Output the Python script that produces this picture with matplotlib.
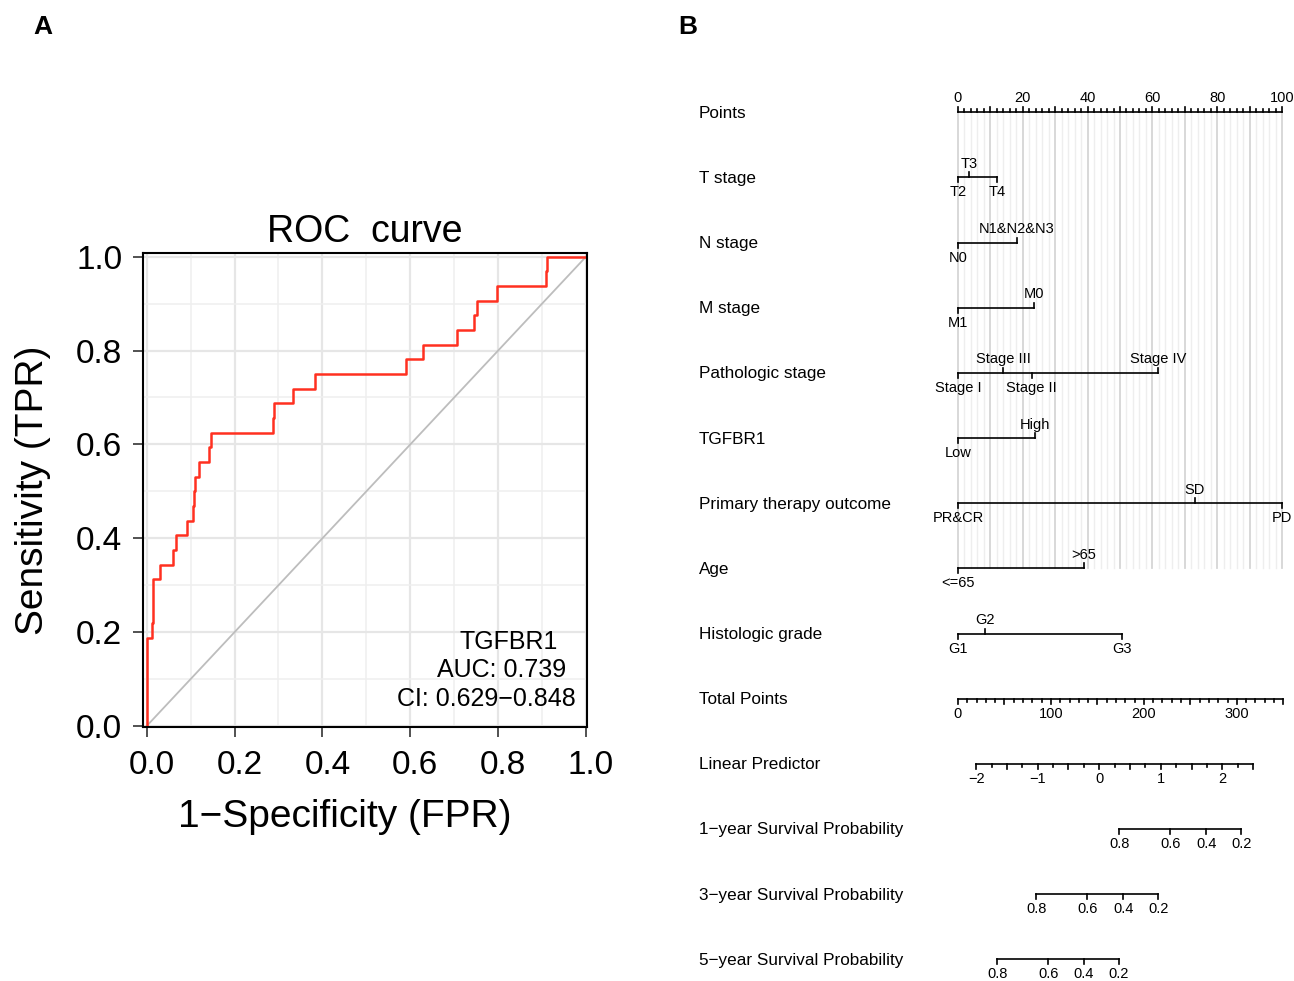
import numpy as np
import matplotlib.pyplot as plt
from matplotlib.transforms import ScaledTranslation, blended_transform_factory

plt.rcParams['font.family'] = ['Liberation Sans', 'DejaVu Sans']

# ROC curve corner points
fpr = [0.0, 0.0, 0.013, 0.015, 0.030, 0.061, 0.067, 0.091, 0.105, 0.108, 0.111, 0.118, 0.142, 0.146,
       0.287, 0.290, 0.332, 0.382, 0.590, 0.630, 0.707, 0.745, 0.752, 0.798, 0.909, 0.912, 1.0]
tpr = [0.0, 0.1875, 0.219, 0.3125, 0.344, 0.375, 0.406, 0.4375, 0.469, 0.500, 0.531, 0.5625, 0.594, 0.625,
       0.656, 0.6875, 0.719, 0.750, 0.781, 0.8125, 0.844, 0.875, 0.906, 0.9375, 0.969, 1.0, 1.0]
roc_text = ['TGFBR1', 'AUC: 0.739', 'CI: 0.629\u22120.848']

# Nomogram variables, levels and points
var_names = ['T stage', 'N stage', 'M stage', 'Pathologic stage', 'TGFBR1',
             'Primary therapy outcome', 'Age', 'Histologic grade']
var_levels = [['T2', 'T3', 'T4'],
              ['N0', 'N1&N2&N3'],
              ['M1', 'M0'],
              ['Stage I', 'Stage III', 'Stage II', 'Stage IV'],
              ['Low', 'High'],
              ['PR&CR', 'SD', 'PD'],
              ['<=65', '>65'],
              ['G1', 'G2', 'G3']]
var_points = [[0, 3.5, 12.0],
              [0, 18.2],
              [0, 23.5],
              [0, 13.9, 22.8, 61.7],
              [0, 23.8],
              [0, 73.0, 100.0],
              [0, 38.9],
              [0, 8.3, 50.7]]

total_max = 350
points_per_total = 100 / 348.6
lp_min, lp_max = -2.0, 2.5
lp_intercept, lp_slope = 152.0, 66.25   # total points = intercept + slope * lp

surv_names = ['1\u2212year Survival Probability', '3\u2212year Survival Probability',
              '5\u2212year Survival Probability']
surv_probs = [0.8, 0.6, 0.4, 0.2]
surv_total = [[173.6, 228.5, 267.2, 304.9],
              [84.2, 139.0, 177.8, 215.4],
              [42.2, 97.1, 135.4, 173.0]]

W, H = 1294, 981
fig = plt.figure(figsize=(W / 100, H / 100), dpi=100)

# ---------------- Panel A: ROC curve ----------------
ax = fig.add_axes([142.7 / W, 1 - 726.7 / H, 444 / W, 473.7 / H])
ax.set_xlim(-0.0091, 1.0016)
ax.set_ylim(-0.0015, 1.0079)
ax.set_xticks(np.arange(0, 1.01, 0.2))
ax.set_yticks(np.arange(0, 1.01, 0.2))
ax.set_xticks(np.arange(0.1, 1.0, 0.2), minor=True)
ax.set_yticks(np.arange(0.1, 1.0, 0.2), minor=True)
ax.set_xticklabels(['%.1f' % v for v in np.arange(0, 1.01, 0.2)])
ax.set_yticklabels(['%.1f' % v for v in np.arange(0, 1.01, 0.2)])
ax.grid(which='major', color='#e6e6e6', linewidth=1.6)
ax.grid(which='minor', color='#efefef', linewidth=1.1)
ax.set_axisbelow(True)
ax.tick_params(which='major', direction='out', length=7.2, width=1.1, labelsize=24, color='#222222')
ax.tick_params(axis='x', pad=9.5)
ax.tick_params(axis='y', pad=7.5)
ax.tick_params(which='minor', length=0)
for lab in ax.get_xticklabels():
    lab.set_transform(lab.get_transform() + ScaledTranslation(5 / 100, 0, fig.dpi_scale_trans))
for s in ax.spines.values():
    s.set_linewidth(1.5)

ax.plot([0, 1], [0, 1], color='#bdbdbd', linewidth=1.3)
ax.plot(fpr, tpr, drawstyle='steps-post', color='#ff3020', linewidth=1.8)

ax.text(0.825, 0.180, roc_text[0], fontsize=18, ha='center', va='center')
ax.text(0.808, 0.119, roc_text[1], fontsize=18, ha='center', va='center')
ax.text(0.774, 0.058, roc_text[2], fontsize=18, ha='center', va='center')

ax.set_title('ROC  curve', fontsize=27, y=1.024, pad=0)
ax.set_xlabel('1\u2212Specificity (FPR)', fontsize=28)
ax.xaxis.set_label_coords(0.4556, -0.152)
ax.set_ylabel('Sensitivity (TPR)', fontsize=28)
ax.yaxis.set_label_coords(-0.206, 0.5)

fig.text(43 / W, 1 - 27 / H, 'A', fontsize=19, fontweight='bold', ha='center', va='center')
fig.text(688 / W, 1 - 27 / H, 'B', fontsize=19, fontweight='bold', ha='center', va='center')

# ---------------- Panel B: nomogram ----------------
nx = fig.add_axes([958 / W, 1 - 959.3 / H, 324 / W, 847 / H])
nx.set_xlim(0, 100)
nx.set_ylim(13, 0)
nx.axis('off')
px = 1 / 65.15          # one pixel in row units
lw = 1.2
tfs = 10.5
lab_tr = blended_transform_factory(fig.transFigure, nx.transData)

row_names = ['Points'] + var_names + ['Total Points', 'Linear Predictor'] + surv_names
for i, name in enumerate(row_names):
    nx.text(699 / W, i + 1 * px, name, transform=lab_tr, fontsize=12.3, ha='left', va='center')

# vertical reference lines
for v in np.arange(0, 101, 2):
    major = v % 10 == 0
    nx.plot([v, v], [0, 7], color='#d6d6d6' if major else '#eeeeee',
            linewidth=1.3 if major else 1.0, zorder=0, clip_on=False)

# Points axis
nx.plot([0, 100], [0, 0], color='black', linewidth=lw, clip_on=False)
for v in np.arange(0, 101, 2):
    tl = 5.7 if v % 10 == 0 else 3.3
    nx.plot([v, v], [0, -tl * px], color='black', linewidth=lw, clip_on=False)
for v in range(0, 101, 20):
    nx.text(v, -7.5 * px, str(v), fontsize=tfs, ha='center', va='bottom')

# variable scales
for i, (levels, pts) in enumerate(zip(var_levels, var_points)):
    row = i + 1
    nx.plot([min(pts), max(pts)], [row, row], color='black', linewidth=lw, clip_on=False)
    order = np.argsort(pts)
    for k, j in enumerate(order):
        above = k % 2 == 1
        d = -1 if above else 1
        nx.plot([pts[j], pts[j]], [row, row + d * 5 * px], color='black', linewidth=lw, clip_on=False)
        if above:
            nx.text(pts[j], row - 6.5 * px, levels[j], fontsize=tfs, ha='center', va='bottom')
        else:
            nx.text(pts[j], row + 8 * px, levels[j], fontsize=tfs, ha='center', va='top')

# Total points axis
row = 9
nx.plot([0, total_max * points_per_total], [row, row], color='black', linewidth=lw, clip_on=False)
for t in np.arange(0, total_max + 1, 10):
    tl = 5.3 if t % 50 == 0 else 3.3
    x = t * points_per_total
    nx.plot([x, x], [row, row + tl * px], color='black', linewidth=lw, clip_on=False)
for t in range(0, total_max, 100):
    nx.text(t * points_per_total, row + 8 * px, str(t), fontsize=tfs, ha='center', va='top')

# Linear predictor axis
row = 10
lp_x = lambda v: (lp_intercept + lp_slope * v) * points_per_total
nx.plot([lp_x(lp_min), lp_x(lp_max)], [row, row], color='black', linewidth=lw, clip_on=False)
for v in np.arange(lp_min, lp_max + 0.01, 0.25):
    tl = 5.3 if abs(v * 2 - round(v * 2)) < 1e-9 else 3.3
    nx.plot([lp_x(v), lp_x(v)], [row, row + tl * px], color='black', linewidth=lw, clip_on=False)
for v in range(-2, 3):
    nx.text(lp_x(v), row + 8 * px, str(v).replace('-', '\u2212'), fontsize=tfs, ha='center', va='top')

# survival probability axes
for i, tots in enumerate(surv_total):
    row = 11 + i
    xs = [t * points_per_total for t in tots]
    nx.plot([min(xs), max(xs)], [row, row], color='black', linewidth=lw, clip_on=False)
    for x, p in zip(xs, surv_probs):
        nx.plot([x, x], [row, row + 5 * px], color='black', linewidth=lw, clip_on=False)
        nx.text(x, row + 8 * px, '%.1f' % p, fontsize=tfs, ha='center', va='top')

fig.savefig('out.png', dpi=100)
